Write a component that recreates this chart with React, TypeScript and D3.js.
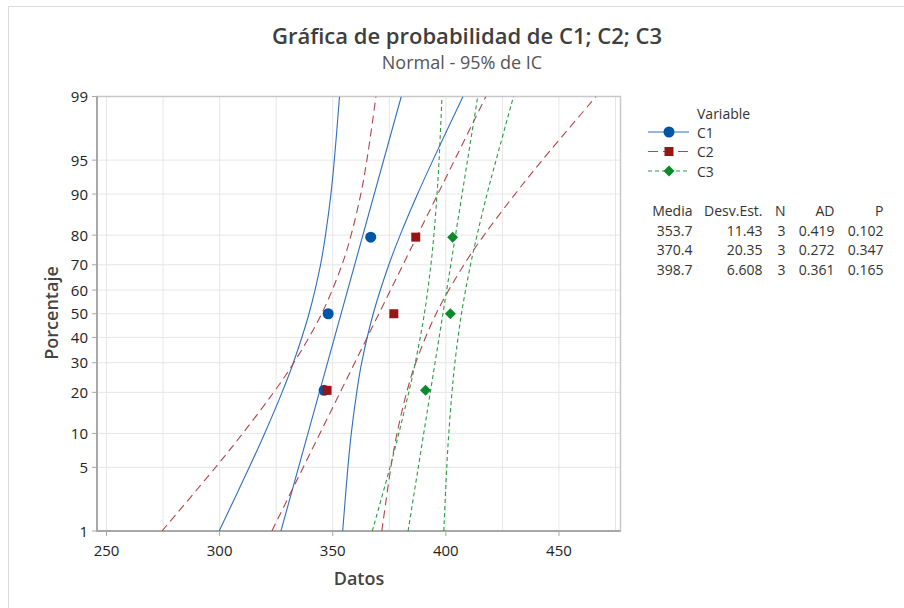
import React, { useEffect, useRef } from 'react';
import * as d3 from 'd3';

// series
const categories = ['C1', 'C2', 'C3'];
const pointPercents = [20.6, 50, 79.4];
const c1Values = [346.2, 348, 366.8];
const c2Values = [347.5, 377, 386.7];
const c3Values = [391, 402, 403];

// fitted lines, 1% and 99%
const fitPercents = [1, 99];
const c1Fit = [327.1, 380.3];
const c2Fit = [323.1, 417.7];
const c3Fit = [383.3, 414.1];

// 95% confidence bands
const bandPercents = [1, 5, 10, 20, 30, 50, 70, 80, 90, 95, 99];
const c1Lower = [299.8, 313.1, 319.9, 327.6, 332.6, 339.5, 344.6, 346.8, 349.2, 350.7, 353.0];
const c1Upper = [354.4, 356.7, 358.2, 360.6, 362.8, 367.9, 374.8, 379.8, 387.5, 394.3, 407.6];
const c2Lower = [274.5, 298.2, 310.2, 323.9, 332.8, 345.1, 354.1, 358.1, 362.4, 365.1, 369.1];
const c2Upper = [371.7, 375.7, 378.4, 382.7, 386.7, 395.7, 408.0, 416.9, 430.6, 442.6, 466.4];
const c3Lower = [367.5, 375.3, 379.2, 383.6, 386.5, 390.5, 393.4, 394.7, 396.1, 397.0, 398.3];
const c3Upper = [399.1, 400.4, 401.3, 402.7, 404.0, 406.9, 410.9, 413.8, 418.2, 422.2, 429.9];

// table
const tableHeaders = ['Media', 'Desv.Est.', 'N', 'AD', 'P'];
const medias = ['353.7', '370.4', '398.7'];
const desvEst = ['11.43', '20.35', '6.608'];
const nCounts = ['3', '3', '3'];
const adValues = ['0.419', '0.272', '0.361'];
const pValues = ['0.102', '0.347', '0.165'];

const xTicks = [250, 300, 350, 400, 450];
const xGrid = [250, 275, 300, 325, 350, 375, 400, 425, 450, 475];
const yTicks = [1, 5, 10, 20, 30, 40, 50, 60, 70, 80, 90, 95, 99];

const FONT = "'Segoe UI', 'Open Sans', sans-serif";

// inverse normal cdf (Acklam)
const probit = (p: number) => {
  const a = [-39.69683028665376, 220.9460984245205, -275.9285104469687, 138.357751867269, -30.66479806614716, 2.506628277459239];
  const b = [-54.47609879822406, 161.5858368580409, -155.6989798598866, 66.80131188771972, -13.28068155288572];
  const c = [-0.007784894002430293, -0.3223964580411365, -2.400758277161838, -2.549732539343734, 4.374664141464968, 2.938163982698783];
  const d = [0.007784695709041462, 0.3224671290700398, 2.445134137142996, 3.754408661907416];
  const pl = 0.02425;
  let q, r;
  if (p < pl) {
    q = Math.sqrt(-2 * Math.log(p));
    return (((((c[0] * q + c[1]) * q + c[2]) * q + c[3]) * q + c[4]) * q + c[5]) / ((((d[0] * q + d[1]) * q + d[2]) * q + d[3]) * q + 1);
  } else if (p <= 1 - pl) {
    q = p - 0.5;
    r = q * q;
    return (((((a[0] * r + a[1]) * r + a[2]) * r + a[3]) * r + a[4]) * r + a[5]) * q / (((((b[0] * r + b[1]) * r + b[2]) * r + b[3]) * r + b[4]) * r + 1);
  }
  q = Math.sqrt(-2 * Math.log(1 - p));
  return -(((((c[0] * q + c[1]) * q + c[2]) * q + c[3]) * q + c[4]) * q + c[5]) / ((((d[0] * q + d[1]) * q + d[2]) * q + d[3]) * q + 1);
};

const series = [
  { name: categories[0], values: c1Values, fit: c1Fit, lower: c1Lower, upper: c1Upper, line: '#2F6FBF', mark: '#0055A5', dash: null, shape: 'circle' },
  { name: categories[1], values: c2Values, fit: c2Fit, lower: c2Lower, upper: c2Upper, line: '#B0454A', mark: '#961616', dash: '8,5', shape: 'square' },
  { name: categories[2], values: c3Values, fit: c3Fit, lower: c3Lower, upper: c3Upper, line: '#2E9A45', mark: '#0B8A2C', dash: '4,3', shape: 'diamond' },
];

export default function App() {
  const ref = useRef<SVGSVGElement>(null);

  useEffect(() => {
    const svg = d3.select(ref.current);
    svg.selectAll('*').remove();

    const left = 97, right = 620.5, top = 96.5, bottom = 531;

    const x = d3.scaleLinear().domain([245.8, 477.2]).range([left, right]);
    const yz = d3.scaleLinear().domain([probit(0.01), probit(0.99)]).range([bottom, top]);
    const y = (pct: number) => yz(probit(pct / 100));

    // outer frame
    svg.append('rect')
      .attr('x', 8.5).attr('y', 6.5)
      .attr('width', 1000).attr('height', 1000)
      .attr('fill', 'white').attr('stroke', '#DCDCDC')

    // title
    svg.append('text')
      .attr('x', 467).attr('y', 44)
      .attr('text-anchor', 'middle')
      .attr('font-family', FONT).attr('font-size', 22).attr('font-weight', 600)
      .attr('fill', '#3e3e3e')
      .text('Gráfica de probabilidad de C1; C2; C3')

    svg.append('text')
      .attr('x', 462).attr('y', 69)
      .attr('text-anchor', 'middle')
      .attr('font-family', FONT).attr('font-size', 18)
      .attr('fill', '#555')
      .text('Normal - 95% de IC')

    svg.append('defs').append('clipPath').attr('id', 'plotclip')
      .append('rect')
      .attr('x', left).attr('y', top)
      .attr('width', right - left).attr('height', bottom - top)

    // grid
    svg.selectAll('vgrid')
      .data(xGrid)
      .enter()
      .append('line')
      .attr('x1', d => x(d)).attr('x2', d => x(d))
      .attr('y1', top).attr('y2', bottom)
      .attr('stroke', '#E6E6E6').attr('stroke-width', 1)

    svg.selectAll('hgrid')
      .data(yTicks)
      .enter()
      .append('line')
      .attr('x1', left).attr('x2', right)
      .attr('y1', d => y(d)).attr('y2', d => y(d))
      .attr('stroke', '#E6E6E6').attr('stroke-width', 1)

    // plot border
    svg.append('rect')
      .attr('x', left).attr('y', top)
      .attr('width', right - left).attr('height', bottom - top)
      .attr('fill', 'none').attr('stroke', '#C8C8C8').attr('stroke-width', 1.5)

    // axes lines
    svg.append('line')
      .attr('x1', left).attr('x2', left).attr('y1', top).attr('y2', bottom + 1)
      .attr('stroke', '#A8A8A8').attr('stroke-width', 2)
    svg.append('line')
      .attr('x1', left - 1).attr('x2', right).attr('y1', bottom).attr('y2', bottom)
      .attr('stroke', '#A8A8A8').attr('stroke-width', 2)

    // y ticks + labels
    svg.selectAll('yticks')
      .data(yTicks)
      .enter()
      .append('line')
      .attr('x1', left - 5).attr('x2', left)
      .attr('y1', d => y(d)).attr('y2', d => y(d))
      .attr('stroke', '#A8A8A8')

    svg.selectAll('ylabels')
      .data(yTicks)
      .enter()
      .append('text')
      .attr('x', 88)
      .attr('y', d => y(d) + 5.5)
      .attr('text-anchor', 'end')
      .attr('font-family', FONT).attr('font-size', 15)
      .attr('fill', '#222')
      .text(d => d)

    // x ticks + labels
    svg.selectAll('xticks')
      .data(xTicks)
      .enter()
      .append('line')
      .attr('x1', d => x(d)).attr('x2', d => x(d))
      .attr('y1', bottom).attr('y2', bottom + 5)
      .attr('stroke', '#A8A8A8')

    svg.selectAll('xlabels')
      .data(xTicks)
      .enter()
      .append('text')
      .attr('x', d => x(d))
      .attr('y', 556)
      .attr('text-anchor', 'middle')
      .attr('font-family', FONT).attr('font-size', 15)
      .attr('fill', '#222')
      .text(d => d)

    // axis titles
    svg.append('text')
      .attr('x', 359).attr('y', 585)
      .attr('text-anchor', 'middle')
      .attr('font-family', FONT).attr('font-size', 18).attr('font-weight', 600)
      .attr('fill', '#444')
      .text('Datos')

    svg.append('text')
      .attr('transform', 'translate(58,313) rotate(-90)')
      .attr('text-anchor', 'middle')
      .attr('font-family', FONT).attr('font-size', 18).attr('font-weight', 600)
      .attr('fill', '#444')
      .text('Porcentaje')

    // curves
    const plot = svg.append('g').attr('clip-path', 'url(#plotclip)');
    const curve = d3.line<[number, number]>()
      .x(d => x(d[0]))
      .y(d => y(d[1]))
      .curve(d3.curveCatmullRom.alpha(0.5));

    series.forEach(s => {
      const paths = [
        s.lower.map((v, i) => [v, bandPercents[i]] as [number, number]),
        s.fit.map((v, i) => [v, fitPercents[i]] as [number, number]),
        s.upper.map((v, i) => [v, bandPercents[i]] as [number, number]),
      ];
      paths.forEach(p => {
        plot.append('path')
          .attr('d', curve(p))
          .attr('fill', 'none')
          .attr('stroke', s.line)
          .attr('stroke-width', 1.1)
          .attr('stroke-dasharray', s.dash)
      })
    })

    const drawMarker = (g, shape, cx, cy, color) => {
      if (shape === 'circle') {
        g.append('circle').attr('cx', cx).attr('cy', cy).attr('r', 5.5).attr('fill', color)
      } else if (shape === 'square') {
        g.append('rect').attr('x', cx - 4.5).attr('y', cy - 4.5).attr('width', 9).attr('height', 9).attr('fill', color)
      } else {
        g.append('path')
          .attr('d', `M${cx},${cy - 5.5}L${cx + 5.5},${cy}L${cx},${cy + 5.5}L${cx - 5.5},${cy}Z`)
          .attr('fill', color)
      }
    }

    series.forEach(s => {
      s.values.forEach((v, i) => drawMarker(plot, s.shape, x(v), y(pointPercents[i]), s.mark))
    })

    // legend
    svg.append('text')
      .attr('x', 697).attr('y', 119)
      .attr('font-family', FONT).attr('font-size', 14)
      .attr('fill', '#333')
      .text('Variable')

    const legendY = [132, 151.5, 171];
    series.forEach((s, i) => {
      svg.append('line')
        .attr('x1', 648).attr('x2', 689)
        .attr('y1', legendY[i]).attr('y2', legendY[i])
        .attr('stroke', s.line).attr('stroke-width', 1.1)
        .attr('stroke-dasharray', s.dash === '4,3' ? '4,3' : s.dash ? '10,5' : null)
      drawMarker(svg, s.shape, 669, legendY[i], s.mark)
      svg.append('text')
        .attr('x', 697).attr('y', legendY[i] + 5.5)
        .attr('font-family', FONT).attr('font-size', 14)
        .attr('fill', '#333')
        .text(s.name)
    })

    // stats table
    const colRight = [692.5, 762.5, 785.5, 834.5, 883.5];
    const rowY = [216, 235.5, 255, 274.5];
    const columns = [medias, desvEst, nCounts, adValues, pValues];
    tableHeaders.forEach((h, c) => {
      svg.append('text')
        .attr('x', colRight[c]).attr('y', rowY[0])
        .attr('text-anchor', 'end')
        .attr('font-family', FONT).attr('font-size', 14)
        .attr('fill', '#333')
        .text(h)
      columns[c].forEach((v, r) => {
        svg.append('text')
          .attr('x', colRight[c]).attr('y', rowY[r + 1])
          .attr('text-anchor', 'end')
          .attr('font-family', FONT).attr('font-size', 14)
          .attr('fill', '#333')
          .text(v)
      })
    })
  }, []);

  return (
    <div style={{ position: 'absolute', left: 0, top: 0 }}>
      <svg ref={ref} width={904} height={608} style={{ display: 'block' }}></svg>
    </div>
  );
}
